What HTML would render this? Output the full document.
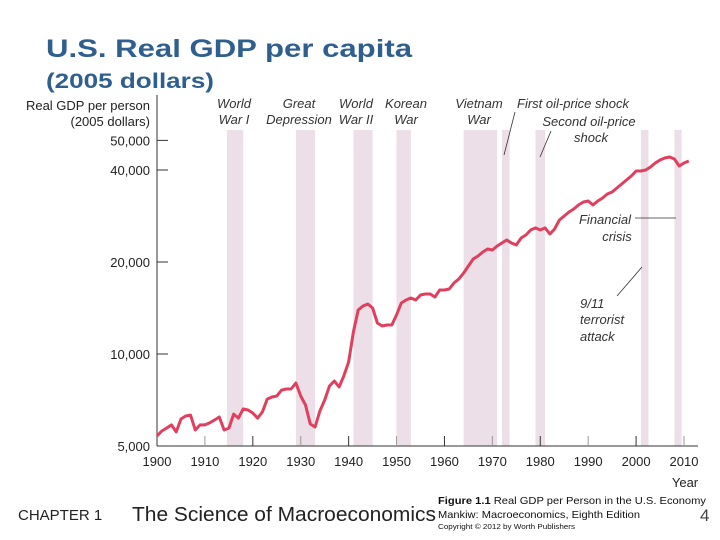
<!DOCTYPE html>
<html><head><meta charset="utf-8"><style>
html,body{margin:0;padding:0;background:#fff;}
svg{display:block;font-family:"Liberation Sans",sans-serif;}
.ann{font-style:italic;font-size:13px;fill:#333;}
.tick{font-size:13px;fill:#222;}
</style></head><body>
<svg id="chart" width="720" height="540" viewBox="0 0 720 540">
<text x="46" y="57" font-size="25" font-weight="bold" fill="#2f5f8f" textLength="366" lengthAdjust="spacingAndGlyphs">U.S. Real GDP per capita</text>
<text x="46" y="88" font-size="21" font-weight="bold" fill="#2f5f8f" textLength="168" lengthAdjust="spacingAndGlyphs">(2005 dollars)</text>
<g>
<text x="150" y="110" text-anchor="end" font-size="13" fill="#222">Real GDP per person</text>
<text x="150" y="126" text-anchor="end" font-size="13" fill="#222">(2005 dollars)</text>
</g>
<g id="bands"></g>
<g id="labels">
<text class="ann" x="234" y="108" text-anchor="middle">World</text><text class="ann" x="234" y="124" text-anchor="middle">War I</text>
<text class="ann" x="299" y="108" text-anchor="middle">Great</text><text class="ann" x="299" y="124" text-anchor="middle">Depression</text>
<text class="ann" x="356" y="108" text-anchor="middle">World</text><text class="ann" x="356" y="124" text-anchor="middle">War II</text>
<text class="ann" x="406" y="108" text-anchor="middle">Korean</text><text class="ann" x="406" y="124" text-anchor="middle">War</text>
<text class="ann" x="479" y="108" text-anchor="middle">Vietnam</text><text class="ann" x="479" y="124" text-anchor="middle">War</text>
<text class="ann" x="573" y="108" text-anchor="middle">First oil-price shock</text>
<text class="ann" x="589" y="126" text-anchor="middle">Second oil-price</text>
<text class="ann" x="591" y="142" text-anchor="middle">shock</text>
<line x1="515" y1="112" x2="504" y2="155" stroke="#333" stroke-width="0.8"/>
<line x1="551" y1="131" x2="540" y2="157" stroke="#333" stroke-width="0.8"/>
<text class="ann" x="605" y="224" text-anchor="middle">Financial</text><text class="ann" x="617" y="241" text-anchor="middle">crisis</text>
<line x1="635" y1="218" x2="676" y2="218" stroke="#333" stroke-width="0.8"/>
<text class="ann" x="580" y="308">9/11</text><text class="ann" x="580" y="324">terrorist</text><text class="ann" x="580" y="341">attack</text>
<line x1="617" y1="296" x2="642" y2="267" stroke="#333" stroke-width="0.8"/>
</g>
<g id="axes"></g>
<g id="series"></g>
<text x="685" y="487" font-size="13" fill="#222" text-anchor="middle">Year</text>
<text x="18" y="520" font-size="15" fill="#222">CHAPTER 1</text>
<text x="132" y="521" font-size="20" fill="#222" textLength="304" lengthAdjust="spacingAndGlyphs">The Science of Macroeconomics</text>
<g>
<text x="438" y="504" font-size="10.5" fill="#111" textLength="268" lengthAdjust="spacingAndGlyphs"><tspan font-weight="bold">Figure 1.1</tspan> Real GDP per Person in the U.S. Economy</text>
<text x="438" y="518" font-size="10.5" fill="#111" textLength="202" lengthAdjust="spacingAndGlyphs">Mankiw: Macroeconomics, Eighth Edition</text>
<text x="438" y="529" font-size="7" fill="#111" textLength="137" lengthAdjust="spacingAndGlyphs">Copyright © 2012 by Worth Publishers</text>
</g>
<text x="700" y="521" font-size="17" fill="#444">4</text>
</svg>
<script>
const bandStarts = [1914.6, 1929, 1941, 1950, 1964, 1972, 1979, 2001, 2008];
const bandEnds = [1918, 1933, 1945, 1953, 1971, 1973.6, 1981, 2002.6, 2009.5];
const years = [];
for (let y = 1900; y <= 2011; y++) years.push(y);
const gdp = [
5390,5600,5720,5860,5560,6130,6270,6310,5640,5860,
5860,5950,6080,6220,5640,5720,6360,6170,6610,6560,
6410,6170,6460,7120,7230,7290,7620,7680,7680,8040,
7290,6810,5900,5770,6510,7070,7860,8160,7800,8470,
9410,11800,13930,14360,14570,14140,12630,12350,12440,12440,
13420,14680,15020,15250,15020,15600,15720,15720,15360,16200,
16200,16320,17080,17600,18400,19410,20460,20930,21570,22050,
21890,22570,23080,23610,23080,22740,23960,24510,25450,25850,
25450,25850,24690,25650,27450,28280,29150,29820,30740,31430,
31670,30740,31670,32400,33380,33890,34930,36000,37100,38240,
39700,39700,40000,40910,42170,43130,43790,44120,43450,41220,
42170,42810];
const xTicks = [1900,1910,1920,1930,1940,1950,1960,1970,1980,1990,2000,2010];
const yTicks = [5000,10000,20000,40000,50000];
const yTickLabels = ["5,000","10,000","20,000","40,000","50,000"];

const NS = "http://www.w3.org/2000/svg";
function xs(yr){ return 157 + (yr - 1900) * (684 - 157) / 110; }
function ys(v){ return 446 - 92 * Math.log2(v / 5000); }
function mk(tag, attrs, parent){ const e = document.createElementNS(NS, tag); for (const k in attrs) e.setAttribute(k, attrs[k]); parent.appendChild(e); return e; }

const bandsG = document.getElementById('bands');
bandStarts.forEach((s, i) => {
  const r = mk('rect', {x: xs(s), y: 130, width: xs(bandEnds[i]) - xs(s), height: 316, fill: '#ecdfe7'}, bandsG);
  
  
});

const ax = document.getElementById('axes');
const yl = mk('line', {x1: 157, y1: 95, x2: 157, y2: 446, stroke: '#333', 'stroke-width': 1}, ax);


const xl = mk('line', {x1: 157, y1: 446, x2: 698, y2: 446, stroke: '#333', 'stroke-width': 1}, ax);


xTicks.forEach(t => {
  const x = xs(t);
  mk('line', {x1: x, y1: 446, x2: x, y2: 436, stroke: (t % 20 === 0 ? '#333' : '#999'), 'stroke-width': 1}, ax);
  const tx = mk('text', {x: x, y: 466, 'text-anchor': 'middle', class: 'tick'}, ax);
  tx.textContent = t;
  
  
});
yTicks.forEach((v, i) => {
  const y = ys(v);
  mk('line', {x1: 157, y1: y, x2: 168, y2: y, stroke: '#333', 'stroke-width': 1}, ax);
  const tx = mk('text', {x: 150, y: y + 5, 'text-anchor': 'end', class: 'tick'}, ax);
  tx.textContent = yTickLabels[i];
  
  
});

const sG = document.getElementById('series');
const d = gdp.map((v, i) => (i ? 'L' : 'M') + xs(years[i]).toFixed(1) + ' ' + ys(v).toFixed(1)).join(' ');
const p = mk('path', {d: d, fill: 'none', stroke: '#e0405e', 'stroke-width': 3, 'stroke-linejoin': 'round'}, sG);


</script>
</body></html>
